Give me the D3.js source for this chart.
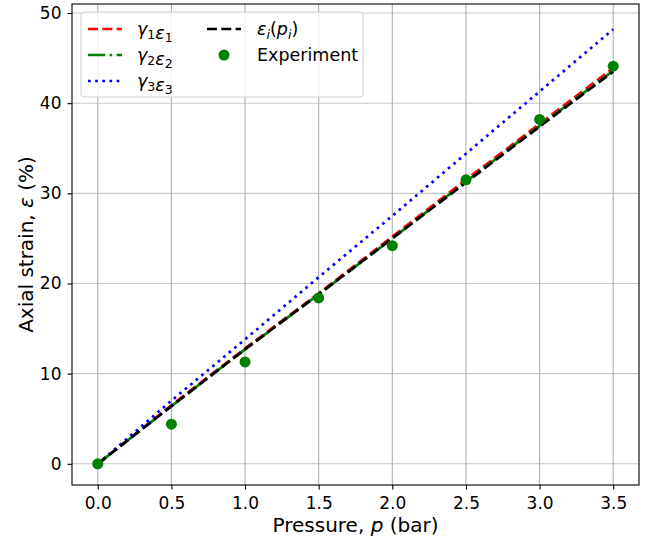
<!DOCTYPE html>
<html>
<head>
<meta charset="utf-8">
<title>Axial strain</title>
<script src="https://cdn.jsdelivr.net/npm/d3@7"></script>
<style>
  body { margin: 0; background: #fff; }
  text { font-family: "DejaVu Sans", sans-serif; fill: #000; }
  .grid line { stroke-width: 1.1px; }
</style>
</head>
<body>
<div id="chart"></div>
<script>
// data
var pressure = [0, 0.5, 1.0, 1.5, 2.0, 2.5, 3.0, 3.5];
var gamma1eps1 = [0, 6.5, 12.8, 18.9, 25.2, 31.5, 37.7, 43.9];
var gamma2eps2 = [0, 6.4, 12.7, 18.8, 25.0, 31.3, 37.5, 43.6];
var gamma3eps3 = [0, 7.0, 13.8, 20.7, 27.5, 34.4, 41.3, 48.2];
var epsPi = [0, 6.4, 12.7, 18.8, 25.0, 31.2, 37.4, 43.5];
var experiment = [0, 4.4, 11.3, 18.4, 24.2, 31.5, 38.2, 44.1];
var xTicks = [0, 0.5, 1.0, 1.5, 2.0, 2.5, 3.0, 3.5];
var yTicks = [0, 10, 20, 30, 40, 50];

var width = 646, height = 541;
var margin = {top: 4, right: 7, bottom: 56, left: 72};
var lw = 2.7;

var svg = d3.select("#chart").append("svg")
    .attr("width", width)
    .attr("height", height);

var x = d3.scaleLinear().domain([-0.175, 3.675]).range([margin.left, width - margin.right]);
var y = d3.scaleLinear().domain([-2.35, 51.0]).range([height - margin.bottom, margin.top]);

// grid
svg.append("g").attr("class", "grid")
  .selectAll("line").data(yTicks).enter().append("line")
    .attr("x1", margin.left).attr("x2", width - margin.right)
    .attr("y1", function(d) { return y(d); }).attr("y2", function(d) { return y(d); })
    .attr("stroke", "#c8c8c8");
svg.append("g").attr("class", "grid")
  .selectAll("line").data(xTicks).enter().append("line")
    .attr("y1", margin.top).attr("y2", height - margin.bottom)
    .attr("x1", function(d) { return x(d); }).attr("x2", function(d) { return x(d); })
    .attr("stroke", "#b0b0b0");

// dash patterns (matplotlib style, scaled by line width)
var dashed = [3.7 * lw, 1.6 * lw].join(",");
var dashdot = [6.4 * lw, 1.6 * lw, 1 * lw, 1.6 * lw].join(",");
var dotted = [1 * lw, 1.65 * lw].join(",");

var series = [
  {vals: gamma1eps1, color: "red", dash: dashed},
  {vals: gamma2eps2, color: "green", dash: dashdot},
  {vals: gamma3eps3, color: "blue", dash: dotted},
  {vals: epsPi, color: "black", dash: dashed}
];
var line = d3.line()
    .x(function(d, i) { return x(pressure[i]); })
    .y(function(d) { return y(d); });

series.forEach(function(s) {
  svg.append("path")
    .datum(s.vals)
    .attr("d", line)
    .attr("fill", "none")
    .attr("stroke", s.color)
    .attr("stroke-width", lw)
    .attr("stroke-dasharray", s.dash);
});

svg.selectAll(".pt").data(experiment).enter().append("circle")
    .attr("class", "pt")
    .attr("cx", function(d, i) { return x(pressure[i]); })
    .attr("cy", function(d) { return y(d); })
    .attr("r", 5.5)
    .attr("fill", "green");

// axes
var xAxis = svg.append("g")
    .attr("transform", "translate(0," + (height - margin.bottom) + ")")
    .call(d3.axisBottom(x).tickValues(xTicks).tickFormat(d3.format(".1f")).tickSize(4.5).tickPadding(7));
var yAxis = svg.append("g")
    .attr("transform", "translate(" + margin.left + ",0)")
    .call(d3.axisLeft(y).tickValues(yTicks).tickFormat(d3.format("d")).tickSize(4.5).tickPadding(6));
[xAxis, yAxis].forEach(function(a) {
  a.select(".domain").remove();
  a.selectAll("text").attr("font-size", 17).attr("font-family", "DejaVu Sans").attr("fill", "#000");
  a.selectAll("line").attr("stroke", "#000").attr("stroke-width", 1.1);
});

// frame
svg.append("rect")
    .attr("x", margin.left).attr("y", margin.top)
    .attr("width", width - margin.left - margin.right)
    .attr("height", height - margin.top - margin.bottom)
    .attr("fill", "none").attr("stroke", "#000").attr("stroke-width", 1.1);

// axis labels
var xl = svg.append("text")
    .attr("x", (margin.left + width - margin.right) / 2)
    .attr("y", 532)
    .attr("text-anchor", "middle")
    .attr("font-size", 20);
xl.append("tspan").text("Pressure, ");
xl.append("tspan").attr("font-style", "italic").text("p");
xl.append("tspan").text(" (bar)");

var yl = svg.append("text")
    .attr("transform", "translate(33," + ((margin.top + height - margin.bottom) / 2) + ") rotate(-90)")
    .attr("text-anchor", "middle")
    .attr("font-size", 20);
yl.append("tspan").text("Axial strain, ");
yl.append("tspan").attr("font-style", "italic").text("ε");
yl.append("tspan").text(" (%)");

// legend
var leg = svg.append("g");
leg.append("rect")
    .attr("x", 81).attr("y", 12).attr("width", 282).attr("height", 85)
    .attr("rx", 3)
    .attr("fill", "#fff").attr("fill-opacity", 0.8)
    .attr("stroke", "#ccc").attr("stroke-width", 1);

var legItems = [
  {c: "red", dash: dashed, x: 88, y: 29, label: [["γ", "1"], ["ε", "1"]]},
  {c: "green", dash: dashdot, x: 88, y: 55, label: [["γ", "2"], ["ε", "2"]]},
  {c: "blue", dash: dotted, x: 88, y: 81, label: [["γ", "3"], ["ε", "3"]]}
];
legItems.forEach(function(d) {
  leg.append("line")
    .attr("x1", d.x).attr("x2", d.x + 34).attr("y1", d.y).attr("y2", d.y)
    .attr("stroke", d.c).attr("stroke-width", lw).attr("stroke-dasharray", d.dash);
  var t = leg.append("text").attr("x", d.x + 49).attr("y", d.y + 6).attr("font-size", 17.5);
  d.label.forEach(function(p) {
    t.append("tspan").attr("font-style", "italic").text(p[0]);
    t.append("tspan").attr("font-size", 12.5).attr("dy", 3.5).text(p[1]);
    t.append("tspan").attr("dy", -3.5).text("");
  });
});
leg.append("line")
  .attr("x1", 207).attr("x2", 241).attr("y1", 29).attr("y2", 29)
  .attr("stroke", "black").attr("stroke-width", lw).attr("stroke-dasharray", dashed);
var t4 = leg.append("text").attr("x", 257).attr("y", 29 + 6).attr("font-size", 17.5);
t4.append("tspan").attr("font-style", "italic").text("ε");
t4.append("tspan").attr("font-style", "italic").attr("font-size", 12.5).attr("dy", 3.5).text("i");
t4.append("tspan").attr("dy", -3.5).text("(");
t4.append("tspan").attr("font-style", "italic").text("p");
t4.append("tspan").attr("font-style", "italic").attr("font-size", 12.5).attr("dy", 3.5).text("i");
t4.append("tspan").attr("dy", -3.5).text(")");
leg.append("circle").attr("cx", 224).attr("cy", 55).attr("r", 5.5).attr("fill", "green");
leg.append("text").attr("x", 257).attr("y", 61).attr("font-size", 17.5).text("Experiment");
</script>
</body>
</html>
